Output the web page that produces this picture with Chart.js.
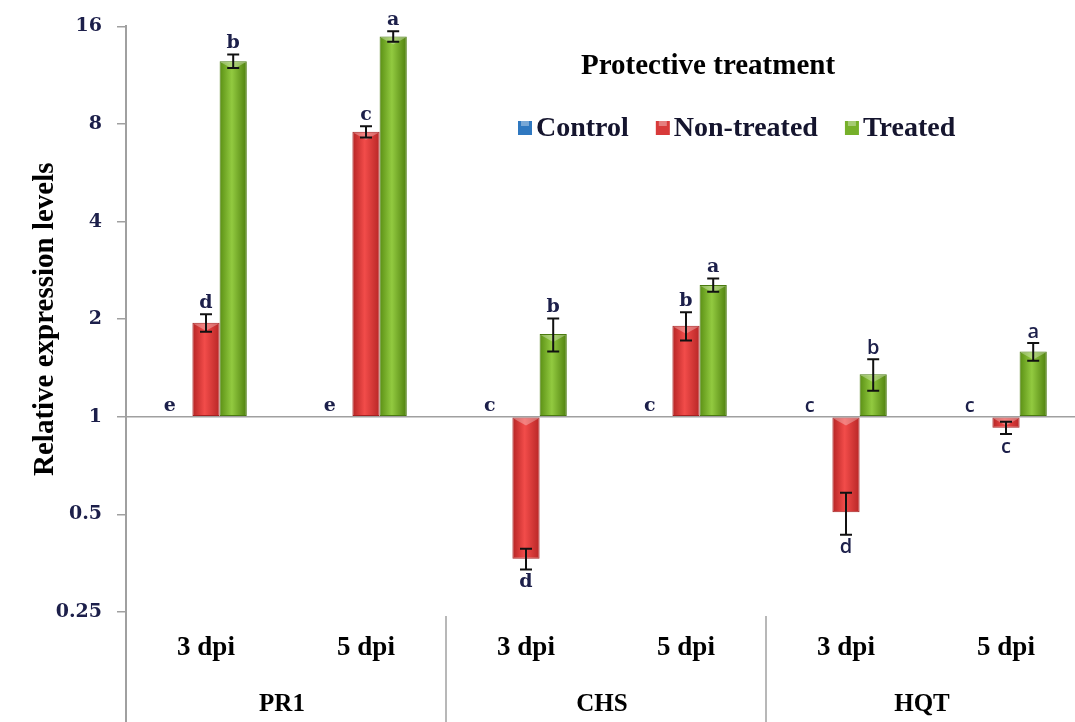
<!DOCTYPE html>
<html>
<head>
<meta charset="utf-8">
<script src="https://cdn.jsdelivr.net/npm/chart.js@4.4.0/dist/chart.umd.min.js"></script>
<style>
html, body { margin: 0; padding: 0; background: #fff; overflow: hidden; }
#wrap { position: relative; width: 1090px; height: 722px; }
</style>
</head>
<body>
<div id="wrap"><canvas id="c"></canvas></div>
<script>
// ===== Relative expression, protective treatment =====
const categories = ['3 dpi', '5 dpi', '3 dpi', '5 dpi', '3 dpi', '5 dpi'];
const genes = ['PR1', 'CHS', 'HQT'];
const yTicks = [0.25, 0.5, 1, 2, 4, 8, 16];

const control = [1, 1, 1, 1, 1, 1];
const nonTreated = [1.95, 7.57, 0.365, 1.91, 0.508, 0.925];
const treated = [12.5, 14.9, 1.80, 2.55, 1.354, 1.59];

const controlErr = [0, 0, 0, 0, 0, 0];
const nonTreatedErr = [0.12, 0.3, 0.027, 0.19, 0.075, 0.04];
const treatedErr = [0.6, 0.55, 0.21, 0.12, 0.15, 0.1];

const controlLetters = ['e', 'e', 'c', 'c', 'c', 'c'];
const nonTreatedLetters = ['d', 'c', 'd', 'b', 'd', 'c'];
const treatedLetters = ['b', 'a', 'b', 'a', 'b', 'a'];

const SERIF = '"Liberation Serif", "Times New Roman", serif';
const WIDE = '"DejaVu Serif", serif';
const INK = '#1c1f4a';

// horizontal gradient across each bar (3D look)
function barShade(stops) {
    return c => {
        const chart = c.chart, x = chart.scales.x;
        if (!x || !chart.chartArea) return stops[1];
        const n = chart.data.datasets.length;
        const step = x.getPixelForValue(1) - x.getPixelForValue(0);
        const bw = step * 0.51 / n;
        const left = x.getPixelForValue(c.dataIndex) - bw * n / 2 + bw * c.datasetIndex;
        const g = chart.ctx.createLinearGradient(left, 0, left + bw, 0);
        g.addColorStop(0, stops[0]);
        g.addColorStop(0.45, stops[1]);
        g.addColorStop(1, stops[2]);
        return g;
    };
}

const extras = {
    id: 'extras',
    beforeDatasetsDraw(chart) {
        const { ctx, chartArea: a, scales: { x, y } } = chart;
        const y1 = y.getPixelForValue(1);
        const step = x.getPixelForValue(1) - x.getPixelForValue(0);
        ctx.save();
        ctx.strokeStyle = '#a0a0a0';
        ctx.lineWidth = 1.5;
        ctx.beginPath(); ctx.moveTo(a.left, y1); ctx.lineTo(chart.width, y1); ctx.stroke();
        ctx.lineWidth = 2;
        ctx.beginPath(); ctx.moveTo(a.left, a.bottom); ctx.lineTo(a.left, chart.height); ctx.stroke();
        ctx.lineWidth = 1.5;
        [2, 4].forEach(i => {
            const px = x.getPixelForValue(i) - step / 2;
            ctx.beginPath(); ctx.moveTo(px, a.bottom + 4); ctx.lineTo(px, chart.height); ctx.stroke();
        });
        ctx.restore();
    },
    afterDatasetsDraw(chart) {
        const { ctx, scales: { x, y } } = chart;
        const y1 = y.getPixelForValue(1);
        ctx.save();
        ctx.textAlign = 'center';
        ctx.textBaseline = 'middle';
        chart.data.datasets.forEach((ds, di) => {
            const meta = chart.getDatasetMeta(di);
            meta.data.forEach((el, i) => {
                const v = ds.data[i], e = ds.err[i];
                ctx.fillStyle = INK;
                ctx.font = i >= 4 ? '600 20px "Open Sans", sans-serif' : 'bold 19px ' + WIDE;
                if (di === 0) {
                    ctx.fillText(ds.letters[i], el.x - 9, y1 - 11);
                    return;
                }
                // bevel highlight on the upper edge of the bar
                const topEdge = Math.min(el.y, el.base), half = el.width / 2;
                ctx.fillStyle = 'rgba(255,255,255,0.3)';
                ctx.beginPath();
                ctx.moveTo(el.x - half + 1, topEdge + 1);
                ctx.lineTo(el.x + half - 1, topEdge + 1);
                ctx.lineTo(el.x, topEdge + 8);
                ctx.closePath();
                ctx.fill();

                const top = y.getPixelForValue(v + e), bot = y.getPixelForValue(v - e);
                ctx.strokeStyle = '#111';
                ctx.lineWidth = 2;
                ctx.beginPath();
                ctx.moveTo(el.x, top); ctx.lineTo(el.x, bot);
                ctx.moveTo(el.x - 6, top); ctx.lineTo(el.x + 6, top);
                ctx.moveTo(el.x - 6, bot); ctx.lineTo(el.x + 6, bot);
                ctx.stroke();
                ctx.fillStyle = INK;
                if (v >= 1) ctx.fillText(ds.letters[i], el.x, top - 11);
                else ctx.fillText(ds.letters[i], el.x, bot + 13);
            });
        });

        // gene labels under the dpi labels
        ctx.fillStyle = '#000';
        ctx.font = 'bold 25px ' + SERIF;
        genes.forEach((g, k) => {
            const cx = (x.getPixelForValue(k * 2) + x.getPixelForValue(k * 2 + 1)) / 2;
            ctx.fillText(g, cx - 4, 705);
        });

        // title + legend inside the plot
        ctx.font = 'bold 29px ' + SERIF;
        ctx.fillText('Protective treatment', 708, 67);
        ctx.textAlign = 'left';
        ctx.font = 'bold 28px ' + SERIF;
        let lx = 518;
        const swatch = ['#2f78c0', '#d83a3a', '#76b02a'];
        chart.data.datasets.forEach((ds, di) => {
            ctx.fillStyle = swatch[di];
            ctx.fillRect(lx, 121, 14, 14);
            ctx.fillStyle = 'rgba(255,255,255,0.35)';
            ctx.fillRect(lx + 3, 121, 8, 5);
            ctx.fillStyle = '#15152e';
            ctx.fillText(ds.label, lx + 18, 129);
            lx += 18 + ctx.measureText(ds.label).width + 27;
        });
        ctx.restore();
    }
};

new Chart(document.getElementById('c').getContext('2d'), {
    type: 'bar',
    data: {
        labels: categories,
        datasets: [
            { label: 'Control', data: control, err: controlErr, letters: controlLetters, base: 1,
              backgroundColor: '#2f78c0', borderWidth: 0 },
            { label: 'Non-treated', data: nonTreated, err: nonTreatedErr, letters: nonTreatedLetters, base: 1,
              backgroundColor: barShade(['#b52424', '#f24c4a', '#b82626']), borderColor: '#a52020', borderWidth: 1, borderSkipped: false },
            { label: 'Treated', data: treated, err: treatedErr, letters: treatedLetters, base: 1,
              backgroundColor: barShade(['#5a8f14', '#92ca40', '#4f800e']), borderColor: '#4a7a10', borderWidth: 1, borderSkipped: false }
        ]
    },
    options: {
        responsive: true, maintainAspectRatio: false, animation: false,
        categoryPercentage: 0.51, barPercentage: 1.0,
        layout: { padding: { top: 22, right: 4, left: 0, bottom: 0 } },
        scales: {
            x: {
                grid: { display: false, drawTicks: false },
                border: { display: false },
                ticks: { color: '#000', padding: 20, font: { family: SERIF, size: 27, weight: 'bold' } },
                afterFit: s => { s.height = 110; }
            },
            y: {
                type: 'logarithmic', min: 0.25, max: 16,
                afterBuildTicks: s => { s.ticks = yTicks.map(v => ({ value: v })); },
                afterFit: s => { s.width = 126; },
                grid: { drawOnChartArea: false, drawTicks: true, tickLength: 9, color: '#a0a0a0', lineWidth: 1.5 },
                border: { display: true, color: '#a0a0a0', width: 2 },
                ticks: { color: INK, padding: 15, font: { family: WIDE, size: 19, weight: 'bold' }, callback: v => String(v) },
                title: { display: true, text: 'Relative expression levels', color: '#000',
                    padding: { top: 28, bottom: 0 }, font: { family: SERIF, size: 29, weight: 'bold' } }
            }
        },
        plugins: { legend: { display: false }, tooltip: { enabled: false } }
    },
    plugins: [extras]
});
</script>
</body>
</html>
